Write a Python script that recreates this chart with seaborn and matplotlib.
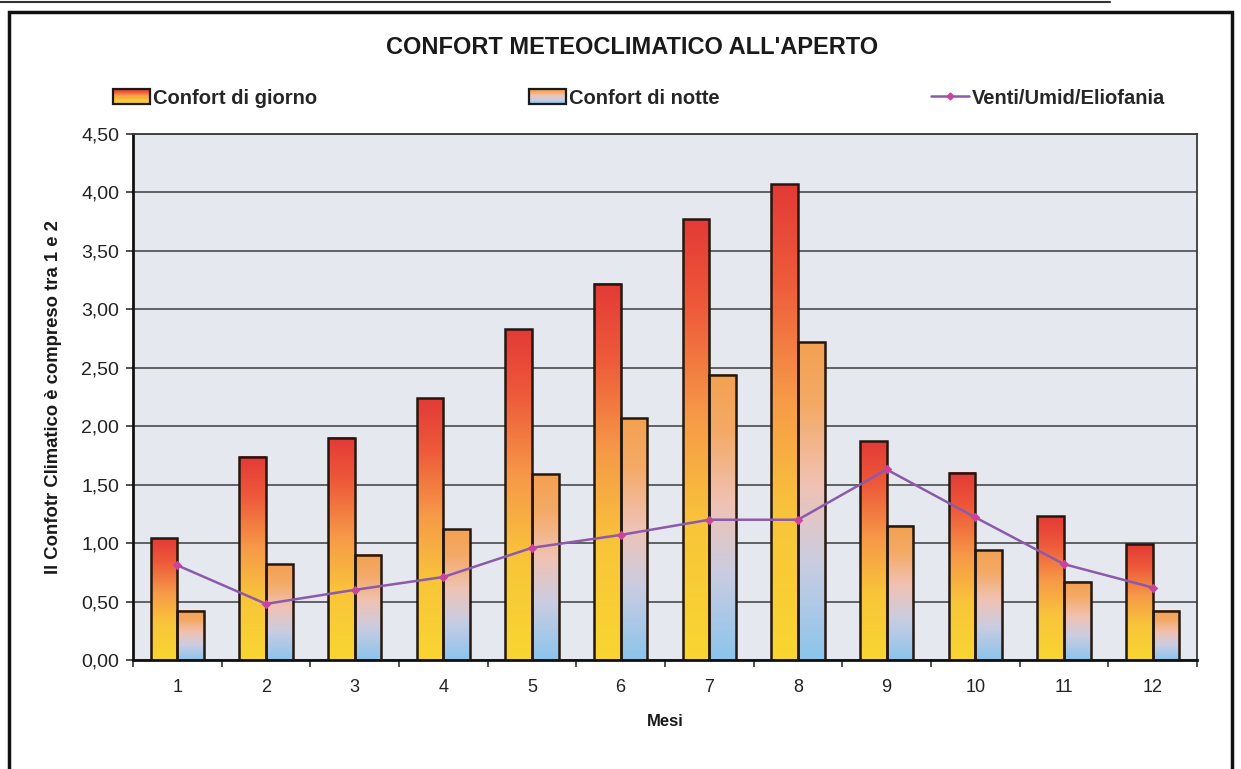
#!/usr/bin/env python3
"""
Confort meteoclimatico all'aperto - bar chart with gradient bars and line
"""
import numpy as np
import pandas as pd
import seaborn as sns
import matplotlib
matplotlib.use("Agg")
import matplotlib.pyplot as plt
from matplotlib.colors import LinearSegmentedColormap
from matplotlib.patches import Rectangle
from matplotlib.lines import Line2D
from matplotlib.legend_handler import HandlerBase
from matplotlib.ticker import FuncFormatter, FixedLocator

mesi = ["1", "2", "3", "4", "5", "6", "7", "8", "9", "10", "11", "12"]
confort_giorno = [1.04, 1.74, 1.90, 2.24, 2.83, 3.22, 3.77, 4.07, 1.87, 1.60, 1.23, 0.99]
confort_notte = [0.42, 0.82, 0.90, 1.12, 1.59, 2.07, 2.44, 2.72, 1.15, 0.94, 0.67, 0.42]
venti_umid = [0.81, 0.48, 0.60, 0.71, 0.96, 1.07, 1.20, 1.20, 1.63, 1.22, 0.82, 0.62]
serie = ["Confort di giorno", "Confort di notte"]
y_ticks = [0.0, 0.5, 1.0, 1.5, 2.0, 2.5, 3.0, 3.5, 4.0, 4.5]

cmap_giorno = LinearSegmentedColormap.from_list(
    "giorno", [(0.0, "#f8d630"), (0.3, "#f9c53a"), (0.55, "#f69a48"),
               (0.8, "#ee5a3a"), (1.0, "#e33a36")])
cmap_notte = LinearSegmentedColormap.from_list(
    "notte", [(0.0, "#8cc4ec"), (0.3, "#c9cde2"), (0.55, "#f0c2b4"),
              (0.8, "#f4aa66"), (1.0, "#f3a152")])


class GradientHandler(HandlerBase):
    def __init__(self, cmap):
        super().__init__()
        self.cmap = cmap

    def create_artists(self, legend, orig_handle, xdescent, ydescent,
                       width, height, fontsize, trans):
        n = 14
        arts = []
        for i in range(n):
            r = Rectangle((-xdescent, -ydescent + i * height / n), width,
                          height / n + 0.3, facecolor=self.cmap(i / (n - 1)),
                          edgecolor="none", transform=trans)
            arts.append(r)
        arts.append(Rectangle((-xdescent, -ydescent), width, height,
                              facecolor="none", edgecolor="#1a1a1a",
                              linewidth=1.6, transform=trans))
        return arts


df = pd.DataFrame({
    "Mese": mesi * 2,
    "Valore": confort_giorno + confort_notte,
    "Serie": [serie[0]] * 12 + [serie[1]] * 12,
})

sns.set_style("white")
plt.rcParams["font.family"] = ["Liberation Sans", "DejaVu Sans"]

fig = plt.figure(figsize=(12.41, 7.69), dpi=100)
ax = fig.add_axes([133 / 1241, 1 - 660 / 769, 1064 / 1241, 526 / 769])
ax.set_facecolor("#e5e9ef")

sns.barplot(data=df, x="Mese", y="Valore", hue="Serie", width=0.6,
            palette=["#f59a48", "#f3b07a"], ax=ax, legend=False)

grad = np.linspace(0, 1, 256).reshape(-1, 1)
for cont, cmap in zip(ax.containers, [cmap_giorno, cmap_notte]):
    for bar in cont:
        x0 = bar.get_x()
        w = bar.get_width()
        h = bar.get_height()
        ax.imshow(grad, extent=[x0, x0 + w, 0, h], origin="lower",
                  aspect="auto", cmap=cmap, zorder=2, interpolation="bilinear")
        bar.set_facecolor("none")
        bar.set_edgecolor("#24170f")
        bar.set_linewidth(1.8)
        bar.set_zorder(3)

sns.pointplot(x=mesi, y=venti_umid, ax=ax, color="#8c5aac",
              markers="D", markersize=3.5, linewidth=1.8, zorder=4)
for ln in ax.lines:
    ln.set_markerfacecolor("#c8459e")
    ln.set_markeredgecolor("#c8459e")

ax.set_xlim(-0.5, 11.5)
ax.set_ylim(0, 4.5)
ax.set_yticks(y_ticks)
ax.yaxis.set_major_formatter(FuncFormatter(lambda v, p: f"{v:.2f}".replace(".", ",")))
ax.yaxis.grid(True, color="#4a4a4a", linewidth=1.2)
ax.set_axisbelow(True)

ax.xaxis.set_minor_locator(FixedLocator(np.arange(-0.5, 12, 1)))
ax.tick_params(axis="x", which="major", length=0, pad=14, labelsize=13,
               colors="#222222")
ax.tick_params(axis="x", which="minor", length=5, width=1.2, color="#333333",
               direction="out", bottom=True)
ax.tick_params(axis="y", length=5, width=1.2, color="#333333", pad=5,
               labelsize=14, labelcolor="#222222", left=True)

for s in ["left", "bottom"]:
    ax.spines[s].set_color("#111111")
    ax.spines[s].set_linewidth(2.0)
for s in ["top", "right"]:
    ax.spines[s].set_color("#3a3a3a")
    ax.spines[s].set_linewidth(1.3)

ax.set_ylabel("Il Confotr Climatico è compreso tra 1 e 2", fontsize=13.3,
              fontweight="bold", color="#1a1a1a")
ax.yaxis.set_label_coords(-0.0665, 0.5)
ax.set_xlabel("Mesi", fontsize=12, fontweight="bold", color="#1a1a1a")
ax.xaxis.set_label_coords(0.5, -0.102)

fig.text(632 / 1241, 1 - 47 / 769, "CONFORT METEOCLIMATICO ALL'APERTO",
         ha="center", va="center", fontsize=17, fontweight="bold",
         color="#1a1a1a")

h_giorno = Rectangle((0, 0), 1, 1)
h_notte = Rectangle((0, 0), 1, 1)
h_linea = Line2D([], [], color="#8c5aac", linewidth=1.8, marker="D",
                 markersize=3.5, markerfacecolor="#c8459e",
                 markeredgecolor="#c8459e")
fig.legend([h_giorno, h_notte, h_linea],
           ["Confort di giorno", "Confort di notte", "Venti/Umid/Eliofania"],
           handler_map={h_giorno: GradientHandler(cmap_giorno),
                        h_notte: GradientHandler(cmap_notte)},
           loc="center", ncol=3, mode="expand", frameon=False,
           bbox_to_anchor=(113 / 1241, 1 - 98 / 769 - 0.02, 1052 / 1241, 0.04),
           borderpad=0, borderaxespad=0, handletextpad=0.15,
           handlelength=1.85, handleheight=0.75,
           prop={"weight": "bold", "size": 14.5})

# outer frame of the scanned page
fig.add_artist(Rectangle((9 / 1241, -0.05), 1223 / 1241, 1.05 - 12 / 769,
                         transform=fig.transFigure, fill=False,
                         edgecolor="#111111", linewidth=2.5))
fig.add_artist(Line2D([0, 1110 / 1241], [1 - 2 / 769, 1 - 2 / 769],
                      transform=fig.transFigure, color="#333333",
                      linewidth=1.5))

fig.savefig("out.png", dpi=100, facecolor="white")
